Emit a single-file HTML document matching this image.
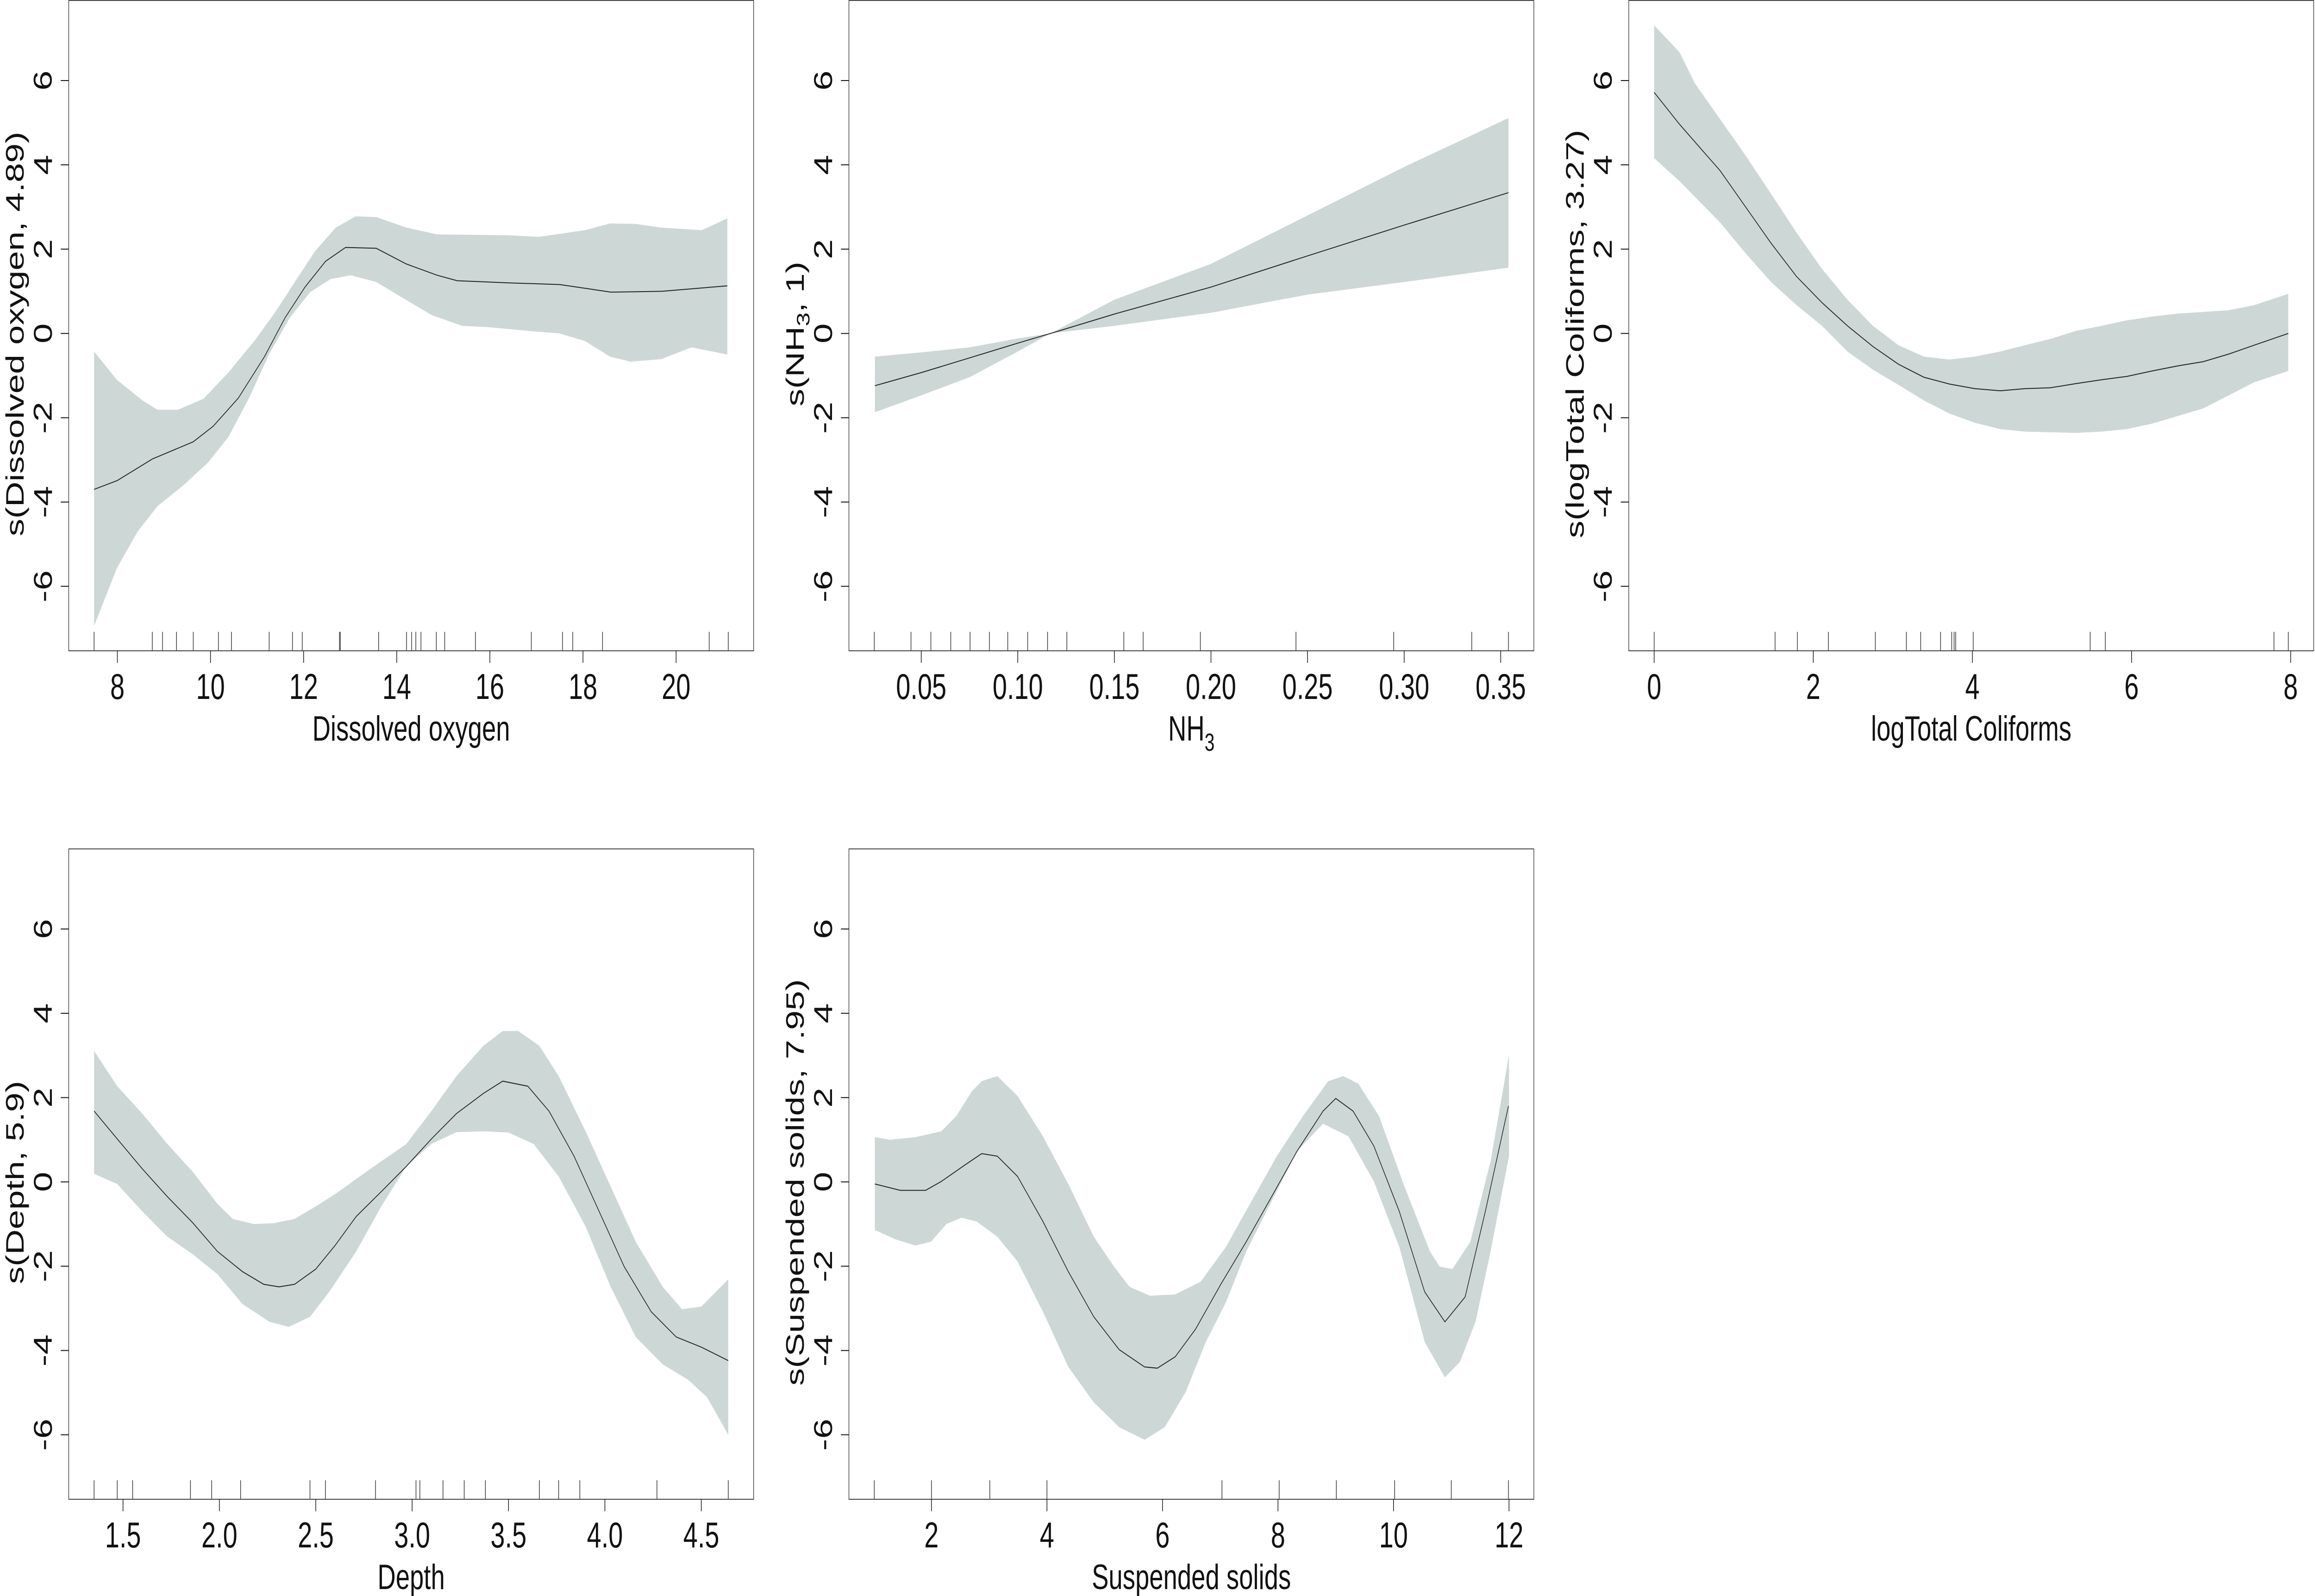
<!DOCTYPE html>
<html><head><meta charset="utf-8">
<style>
html,body{margin:0;padding:0;background:#fff;overflow:hidden;width:100%;height:100%;}
svg{display:block;width:100vw;height:100vh;}
text{font-family:"Liberation Sans",Arial,sans-serif;fill:#111;}
</style></head>
<body>
<svg id="fig" viewBox="0 0 6973 3448" preserveAspectRatio="none" xmlns="http://www.w3.org/2000/svg"></svg>
<script>
// ---------- Panel 1: Dissolved oxygen ----------
const doX = [7.5,8.0,8.75,9.63,10.06,10.6,11.16,11.6,12.03,12.47,12.9,13.56,14.2,14.87,15.3,16.4,17.5,18.6,19.7,21.1];
const doFit = [-3.70,-3.49,-2.98,-2.57,-2.20,-1.53,-0.55,0.37,1.10,1.71,2.04,2.02,1.65,1.38,1.25,1.20,1.16,0.98,1.0,1.13];
const doUpX = [7.5,7.99,8.54,8.86,9.3,9.85,10.39,10.94,11.38,11.81,12.25,12.69,13.12,13.56,14.21,14.87,16.4,17.05,18.04,18.58,19.13,19.68,20.55,21.1];
const doUp = [-0.43,-1.10,-1.59,-1.81,-1.81,-1.55,-0.92,-0.18,0.49,1.22,1.96,2.51,2.78,2.76,2.51,2.35,2.33,2.29,2.45,2.61,2.6,2.51,2.45,2.73];
const doLoX = [7.5,7.99,8.43,8.86,9.41,9.95,10.39,10.83,11.26,11.70,12.14,12.58,13.01,13.56,14.10,14.76,15.41,15.96,16.83,17.49,18.04,18.58,19.02,19.68,20.33,21.1];
const doLo = [-6.94,-5.57,-4.71,-4.10,-3.61,-3.06,-2.45,-1.53,-0.49,0.37,0.98,1.29,1.38,1.22,0.86,0.43,0.18,0.15,0.06,0,-0.18,-0.55,-0.67,-0.61,-0.33,-0.50];
const doRug = [7.50,8.75,8.97,9.27,9.63,10.17,10.45,11.26,11.76,11.97,12.77,12.79,13.61,14.21,14.32,14.41,14.52,14.85,15.03,15.69,16.89,17.56,17.78,18.42,20.71,21.12];
const doTicks = [8,10,12,14,16,18,20];
const doTickLabels = ["8","10","12","14","16","18","20"];

// ---------- Panel 2: NH3 ----------
const nhX = [0.026,0.05,0.075,0.1,0.117,0.15,0.2,0.25,0.3,0.354];
const nhFit = [-1.24,-0.93,-0.58,-0.23,0,0.46,1.10,1.84,2.57,3.34];
const nhUp = [-0.55,-0.45,-0.33,-0.12,0,0.80,1.65,2.80,3.95,5.11];
const nhLo = [-1.87,-1.47,-1.04,-0.43,0,0.18,0.49,0.92,1.22,1.56];
const nhRug = [0.0257,0.0447,0.0550,0.0653,0.0753,0.0853,0.0948,0.1051,0.1154,0.1254,0.1549,0.1649,0.1945,0.2440,0.2946,0.3350,0.3540];
const nhTicks = [0.05,0.10,0.15,0.20,0.25,0.30,0.35];
const nhTickLabels = ["0.05","0.10","0.15","0.20","0.25","0.30","0.35"];

// ---------- Panel 3: logTotal Coliforms ----------
const coX = [0,0.32,0.83,1.15,1.47,1.79,2.11,2.43,2.75,3.07,3.39,3.71,4.03,4.35,4.66,4.98,5.30,5.62,5.94,6.26,6.58,6.90,7.22,7.54,7.97];
const coFit = [5.72,4.96,3.86,3.0,2.14,1.35,0.73,0.18,-0.31,-0.73,-1.04,-1.20,-1.31,-1.36,-1.31,-1.29,-1.19,-1.10,-1.02,-0.89,-0.77,-0.67,-0.49,-0.28,0];
const coUpX = [0,0.32,0.51,0.83,1.15,1.47,1.79,2.11,2.43,2.75,3.07,3.39,3.71,4.03,4.35,4.66,4.98,5.30,5.62,5.94,6.26,6.58,6.90,7.22,7.54,7.97];
const coUp = [7.31,6.67,5.94,5.08,4.22,3.31,2.39,1.53,0.80,0.18,-0.28,-0.55,-0.62,-0.55,-0.43,-0.28,-0.13,0.06,0.18,0.31,0.40,0.47,0.51,0.55,0.67,0.94];
const coLoX = [0,0.32,0.83,1.15,1.47,1.79,2.11,2.43,2.75,3.07,3.39,3.71,4.03,4.35,4.66,5.30,5.62,5.94,6.26,6.58,6.90,7.22,7.54,7.97];
const coLo = [4.16,3.61,2.63,1.90,1.22,0.67,0.18,-0.43,-0.86,-1.22,-1.59,-1.90,-2.12,-2.27,-2.33,-2.36,-2.33,-2.27,-2.14,-1.96,-1.78,-1.47,-1.16,-0.89];
const coRug = [0,1.52,1.80,2.19,2.78,3.17,3.35,3.60,3.74,3.77,3.79,4.01,5.48,5.67,7.79,7.97];
const coTicks = [0,2,4,6,8];
const coTickLabels = ["0","2","4","6","8"];

// ---------- Panel 4: Depth ----------
const deX = [1.35,1.47,1.60,1.73,1.86,1.99,2.12,2.23,2.31,2.39,2.50,2.60,2.71,2.84,2.97,3.10,3.23,3.37,3.47,3.60,3.71,3.84,3.97,4.10,4.24,4.37,4.50,4.64];
const deFit = [1.68,1.02,0.31,-0.35,-0.96,-1.65,-2.13,-2.43,-2.49,-2.43,-2.07,-1.51,-0.82,-0.23,0.37,1.02,1.62,2.10,2.39,2.27,1.68,0.61,-0.70,-2.01,-3.08,-3.68,-3.92,-4.24];
const deUpX = [1.35,1.47,1.60,1.73,1.86,1.99,2.07,2.18,2.28,2.39,2.50,2.60,2.71,2.84,2.97,3.10,3.23,3.37,3.47,3.55,3.66,3.76,3.90,4.03,4.16,4.30,4.40,4.50,4.64];
const deUp = [3.11,2.27,1.62,0.90,0.25,-0.52,-0.88,-1.0,-0.98,-0.88,-0.58,-0.29,0.07,0.49,0.90,1.68,2.51,3.23,3.58,3.58,3.23,2.51,1.20,-0.11,-1.42,-2.49,-3.02,-2.96,-2.31];
const deLoX = [1.35,1.47,1.60,1.73,1.86,1.99,2.12,2.26,2.36,2.47,2.57,2.71,2.84,2.97,3.10,3.23,3.37,3.50,3.63,3.76,3.90,4.03,4.16,4.30,4.43,4.53,4.64];
const deLo = [0.19,-0.05,-0.70,-1.30,-1.71,-2.19,-2.90,-3.32,-3.44,-3.20,-2.61,-1.65,-0.58,0.37,0.90,1.18,1.20,1.17,0.90,0.13,-1.06,-2.49,-3.68,-4.33,-4.69,-5.11,-6.0];
const deRug = [1.35,1.47,1.55,1.85,1.96,2.11,2.47,2.55,2.81,3.02,3.04,3.16,3.27,3.38,3.66,3.76,3.87,4.27,4.64];
const deTicks = [1.5,2.0,2.5,3.0,3.5,4.0,4.5];
const deTickLabels = ["1.5","2.0","2.5","3.0","3.5","4.0","4.5"];

// ---------- Panel 5: Suspended solids ----------
const ssX = [1.02,1.46,1.90,2.17,2.61,2.87,3.14,3.49,3.93,4.37,4.81,5.25,5.69,5.91,6.22,6.57,7.01,7.45,7.89,8.33,8.78,9.0,9.30,9.66,10.10,10.54,10.89,11.24,11.59,11.99];
const ssFit = [-0.05,-0.20,-0.20,0.01,0.43,0.67,0.61,0.13,-0.94,-2.13,-3.20,-3.98,-4.39,-4.42,-4.15,-3.50,-2.43,-1.42,-0.35,0.73,1.68,1.98,1.68,0.85,-0.70,-2.61,-3.32,-2.73,-0.70,1.80];
const ssUpX = [1.02,1.28,1.72,2.17,2.43,2.70,2.87,3.14,3.49,3.93,4.37,4.81,5.16,5.43,5.78,6.22,6.66,7.10,7.54,7.98,8.43,8.87,9.13,9.39,9.75,10.19,10.63,10.80,11.02,11.33,11.68,12.0];
const ssUp = [1.06,1.0,1.06,1.20,1.56,2.15,2.39,2.51,2.04,1.08,-0.05,-1.30,-2.01,-2.49,-2.70,-2.67,-2.37,-1.54,-0.46,0.61,1.56,2.39,2.51,2.33,1.56,-0.11,-1.65,-2.01,-2.07,-1.42,0.49,3.01];
const ssLoX = [1.02,1.37,1.72,1.99,2.26,2.52,2.78,3.14,3.49,3.93,4.37,4.81,5.25,5.69,6.04,6.40,6.75,7.10,7.45,7.89,8.33,8.78,9.22,9.66,10.10,10.54,10.89,11.15,11.42,11.68,12.0];
const ssLo = [-1.14,-1.36,-1.51,-1.42,-1.0,-0.85,-0.94,-1.30,-1.89,-3.08,-4.39,-5.23,-5.82,-6.12,-5.82,-4.99,-3.80,-2.85,-1.65,-0.46,0.73,1.38,1.08,0.01,-1.54,-3.80,-4.64,-4.27,-3.32,-1.65,0.61];
const ssRug = [1.01,2.0,3.01,4.0,7.03,8.02,9.01,10.02,11.0,11.99];
const ssTicks = [2,4,6,8,10,12];
const ssTickLabels = ["2","4","6","8","10","12"];

const yTicks = [-6,-4,-2,0,2,4,6];
const yTickLabels = ["-6","-4","-2","0","2","4","6"];

const NS = "http://www.w3.org/2000/svg";
const svg = document.getElementById("fig");
function mk(tag, attrs, parent){
  const e = document.createElementNS(NS, tag);
  for (const k in attrs) e.setAttribute(k, attrs[k]);
  (parent||svg).appendChild(e);
  return e;
}

const BOX_W = 2063, BOX_H = 1405, YTOP = 7.9, YBOT = -7.53;

function panel(p){
  const g = mk("g", {});
  
  
  const L = p.left, T = p.top, R = L + BOX_W, B = T + BOX_H;
  const xmin = p.rug[0], xmax = p.rug[p.rug.length-1];
  const ext = (xmax - xmin) * 0.04;
  const sx = v => L + (v - (xmin - ext)) / ((xmax - xmin) + 2*ext) * BOX_W;
  const sy = v => T + (YTOP - v) / (YTOP - YBOT) * BOX_H;

  let d = "";
  p.upX.forEach((x,i)=>{ d += (i? "L":"M") + sx(x).toFixed(1) + "," + sy(p.up[i]).toFixed(1); });
  for (let i = p.loX.length-1; i >= 0; i--) d += "L" + sx(p.loX[i]).toFixed(1) + "," + sy(p.lo[i]).toFixed(1);
  d += "Z";
  const band = mk("path", {d: d, fill: "#cdd8d6", stroke: "none"}, g);
  
  

  let ld = "";
  p.x.forEach((x,i)=>{ ld += (i? "L":"M") + sx(x).toFixed(1) + "," + sy(p.fit[i]).toFixed(1); });
  const line = mk("path", {d: ld, fill: "none", stroke: "#222", "stroke-width": 2}, g);
  
  

  const rg = mk("g", {}, g);
  
  
  p.rug.forEach(v=>{
    const r = mk("line", {x1: sx(v), x2: sx(v), y1: B - 41, y2: B, stroke: "#333", "stroke-width": 2}, rg);
    
    
  });

  const box = mk("rect", {x: L, y: T, width: BOX_W, height: BOX_H, fill: "none", stroke: "#444", "stroke-width": 2}, g);
  
  

  const xa = mk("g", {}, g);
  
  
  p.ticks.forEach((v,i)=>{
    mk("line", {x1: sx(v), x2: sx(v), y1: B, y2: B + 26, stroke: "#111", "stroke-width": 2}, xa);
    const t = mk("text", {x: sx(v), y: B + 104, "font-size": 78, "text-anchor": "middle"}, xa);
    
    
    t.textContent = p.tickLabels[i];
  });
  const xt = mk("text", {x: (L+R)/2, y: B + 194, "font-size": 76, "text-anchor": "middle"}, g);
  
  
  xt.textContent = p.xlabel;
  if (p.xsub) {
    const s = mk("tspan", {"font-size": 54, dy: 22}, xt); s.textContent = p.xsub;
  }

  const ya = mk("g", {}, g);
  
  
  yTicks.forEach((v,i)=>{
    mk("line", {x1: L - 24, x2: L, y1: sy(v), y2: sy(v), stroke: "#111", "stroke-width": 2}, ya);
    const cx = L - 77, cy = sy(v);
    const t = mk("text", {x: cx, y: cy, "font-size": 78, "text-anchor": "middle", "dominant-baseline": "central", transform: "rotate(-90 " + cx + " " + cy + ")"}, ya);
    
    
    t.textContent = yTickLabels[i];
  });
  const yx = L - 161, yy = (T+B)/2 + 18;
  const yt = mk("text", {x: yx, y: yy, "font-size": 76, "text-anchor": "middle", "dominant-baseline": "central", transform: "rotate(-90 " + yx + " " + yy + ")"}, g);
  
  
  if (p.ylabelParts) {
    const a = mk("tspan", {}, yt); a.textContent = p.ylabelParts[0];
    const b = mk("tspan", {"font-size": 54, dy: 22}, yt); b.textContent = p.ylabelParts[1];
    const c = mk("tspan", {dy: -22}, yt); c.textContent = p.ylabelParts[2];
  } else yt.textContent = p.ylabel;
}

const C1 = 207, C2 = 2557, C3 = 4906, R1 = 1, R2 = 1834;
panel({name:"dissolved-oxygen", left:C1, top:R1, x:doX, fit:doFit, upX:doUpX, up:doUp, loX:doLoX, lo:doLo, rug:doRug, ticks:doTicks, tickLabels:doTickLabels, xlabel:"Dissolved oxygen", ylabel:"s(Dissolved oxygen, 4.89)"});
panel({name:"nh3", left:C2, top:R1, x:nhX, fit:nhFit, upX:nhX, up:nhUp, loX:nhX, lo:nhLo, rug:nhRug, ticks:nhTicks, tickLabels:nhTickLabels, xlabel:"NH", xsub:"3", ylabelParts:["s(NH","3",", 1)"]});
panel({name:"log-total-coliforms", left:C3, top:R1, x:coX, fit:coFit, upX:coUpX, up:coUp, loX:coLoX, lo:coLo, rug:coRug, ticks:coTicks, tickLabels:coTickLabels, xlabel:"logTotal Coliforms", ylabel:"s(logTotal Coliforms, 3.27)"});
panel({name:"depth", left:C1, top:R2, x:deX, fit:deFit, upX:deUpX, up:deUp, loX:deLoX, lo:deLo, rug:deRug, ticks:deTicks, tickLabels:deTickLabels, xlabel:"Depth", ylabel:"s(Depth, 5.9)"});
panel({name:"suspended-solids", left:C2, top:R2, x:ssX, fit:ssFit, upX:ssUpX, up:ssUp, loX:ssLoX, lo:ssLo, rug:ssRug, ticks:ssTicks, tickLabels:ssTickLabels, xlabel:"Suspended solids", ylabel:"s(Suspended solids, 7.95)"});
</script>
</body></html>
